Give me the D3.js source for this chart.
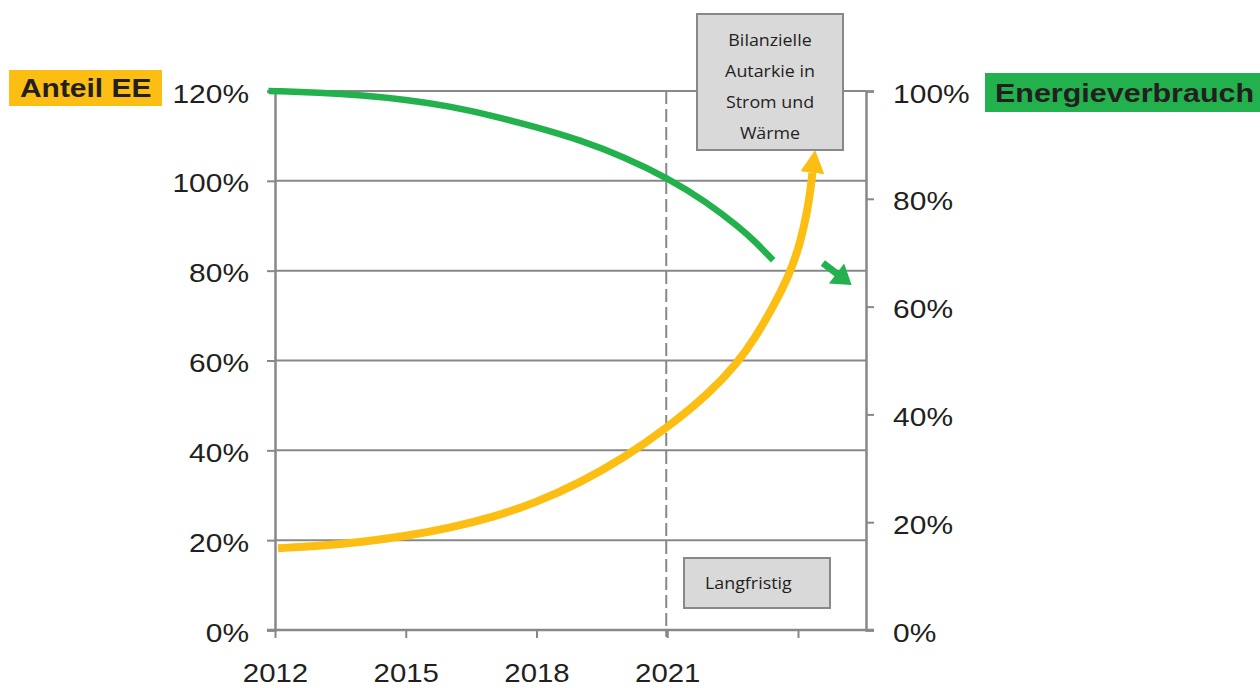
<!DOCTYPE html>
<html>
<head>
<meta charset="utf-8">
<script src="https://cdn.jsdelivr.net/npm/d3@7"></script>
<style>
  html, body { margin: 0; padding: 0; background: #fff; }
  svg { display: block; }
</style>
</head>
<body>
<svg id="chart" width="1260" height="688"></svg>
<script>
// ---- data ----
const yearTicks = [2012, 2015, 2018, 2021, 2024];
const yearLabels = ["2012", "2015", "2018", "2021", ""];
const shareTicks = [0, 20, 40, 60, 80, 100, 120];          // left axis, Anteil EE
const consumptionTicks = [0, 20, 40, 60, 80, 100];         // right axis, Energieverbrauch

// renewable share (left axis, %)
const shareYears  = [2012.07, 2013, 2014, 2015, 2016, 2017, 2018, 2019, 2020, 2021, 2022, 2022.62, 2023.01, 2023.40, 2023.80, 2024.05, 2024.22, 2024.30, 2024.32, 2024.33];
const shareValues = [18.2, 18.7, 19.6, 20.9, 22.7, 25.1, 28.4, 32.8, 38.3, 45.0, 53.0, 59.6, 65.0, 71.4, 79.0, 86.0, 93.5, 99.0, 101.0, 101.8];

// energy consumption (right axis, %)
const consumptionYears  = [2011.85, 2012, 2013, 2014, 2015, 2016, 2017, 2018, 2019, 2020, 2021, 2021.91, 2022.67, 2023, 2023.43];
const consumptionValues = [100, 100, 99.7, 99.2, 98.4, 97.2, 95.4, 93.3, 90.9, 87.8, 83.9, 79.4, 74.6, 72.2, 68.6];
// continuation arrow of the consumption trend
const trendArrowYears  = [2024.57, 2025.23];
const trendArrowValues = [68.1, 64.0];

const horizonYear = 2021;
const goalLines = ["Bilanzielle", "Autarkie in", "Strom und", "Wärme"];
const horizonLabel = "Langfristig";
const leftTitle = "Anteil EE";
const rightTitle = "Energieverbrauch";

// ---- styling ----
const YELLOW = "#FDBE13";
const GREEN = "#22B14C";
const GRAY = "#888888";
const INK = "#231f20";
const BOX = "#D9D9D9";
const SANS = "'Liberation Sans', Arial, sans-serif";
const NOTE = "'Open Sans', 'Liberation Sans', sans-serif";
const SX = 1.13;   // horizontal stretch of the lettering

const frame = { left: 275, right: 866, top: 91, bottom: 630 };

const svg = d3.select("#chart");

const x = d3.scaleLinear().domain([2012, 2024]).range([frame.left, 798]);
const yL = d3.scaleLinear().domain([0, 120]).range([frame.bottom, frame.top]);
const yR = d3.scaleLinear().domain([0, 100]).range([frame.bottom, frame.top]);

// ---- gridlines ----
svg.append("g")
  .selectAll("line")
  .data(shareTicks.filter(d => d > 0))
  .join("line")
  .attr("x1", frame.left).attr("x2", frame.right)
  .attr("y1", d => yL(d)).attr("y2", d => yL(d))
  .attr("stroke", GRAY).attr("stroke-width", 2);

// ---- left axis ----
const leftAxis = svg.append("g")
  .attr("transform", `translate(${frame.left},0)`)
  .call(d3.axisLeft(yL).tickValues(shareTicks).tickFormat(d => d + "%").tickSize(8).tickPadding(0));
leftAxis.select(".domain").attr("stroke", GRAY).attr("stroke-width", 2.5);
leftAxis.selectAll(".tick line").attr("stroke", GRAY).attr("stroke-width", 2);
leftAxis.selectAll(".tick text")
  .attr("x", -23).attr("dy", "0.42em")
  .attr("transform", `scale(${SX},1)`)
  .attr("font-family", SANS).attr("font-size", 26.5).attr("fill", INK);

// ---- right axis ----
const rightAxis = svg.append("g")
  .attr("transform", `translate(${frame.right},0)`)
  .call(d3.axisRight(yR).tickValues(consumptionTicks).tickFormat(d => d + "%").tickSize(8).tickPadding(0));
rightAxis.select(".domain").attr("stroke", GRAY).attr("stroke-width", 2.5);
rightAxis.selectAll(".tick line").attr("stroke", GRAY).attr("stroke-width", 2);
rightAxis.selectAll(".tick text")
  .attr("x", 24).attr("dy", "0.42em")
  .attr("transform", `scale(${SX},1)`)
  .attr("font-family", SANS).attr("font-size", 26.5).attr("fill", INK);

// ---- bottom axis ----
const bottomAxis = svg.append("g")
  .attr("transform", `translate(0,${frame.bottom})`)
  .call(d3.axisBottom(x).tickValues(yearTicks).tickFormat((d, i) => yearLabels[i]).tickSize(8).tickPadding(0));
bottomAxis.select(".domain").remove();
bottomAxis.selectAll(".tick line").attr("stroke", GRAY).attr("stroke-width", 2);
bottomAxis.selectAll(".tick text")
  .attr("y", 52).attr("dy", 0)
  .attr("transform", `scale(${SX},1)`)
  .attr("font-family", SANS).attr("font-size", 26).attr("fill", INK);
svg.append("line")
  .attr("x1", frame.left - 8).attr("x2", frame.right + 8)
  .attr("y1", frame.bottom).attr("y2", frame.bottom)
  .attr("stroke", GRAY).attr("stroke-width", 2.5);

// ---- horizon divider ----
svg.append("line")
  .attr("x1", x(horizonYear) - 1).attr("x2", x(horizonYear) - 1)
  .attr("y1", frame.top).attr("y2", frame.bottom + 7)
  .attr("stroke", GRAY).attr("stroke-width", 2)
  .attr("stroke-dasharray", "13,5");

// ---- arrow marker ----
const defs = svg.append("defs");
defs.append("marker")
  .attr("id", "head-yellow")
  .attr("markerUnits", "userSpaceOnUse")
  .attr("viewBox", "0 -13 23 26")
  .attr("markerWidth", 23).attr("markerHeight", 26)
  .attr("refX", 0).attr("refY", 0)
  .attr("orient", "auto")
  .append("path").attr("d", "M0,-12L23,0L0,12Z").attr("fill", YELLOW);

// ---- consumption curve ----
const consumption = consumptionYears.map((yr, i) => [yr, consumptionValues[i]]);
svg.append("path")
  .datum(consumption)
  .attr("fill", "none")
  .attr("stroke", GREEN).attr("stroke-width", 6.5)
  .attr("d", d3.line().x(d => x(d[0])).y(d => yR(d[1])).curve(d3.curveBasis));

// ---- renewable share curve with arrowhead ----
const share = shareYears.map((yr, i) => [yr, shareValues[i]]);
svg.append("path")
  .datum(share)
  .attr("fill", "none")
  .attr("stroke", YELLOW).attr("stroke-width", 8)
  .attr("marker-end", "url(#head-yellow)")
  .attr("d", d3.line().x(d => x(d[0])).y(d => yL(d[1])).curve(d3.curveBasis));

// ---- consumption trend arrow ----
{
  const tx = x(trendArrowYears[0]), ty = yR(trendArrowValues[0]);
  const hx = x(trendArrowYears[1]), hy = yR(trendArrowValues[1]);
  const len = Math.hypot(hx - tx, hy - ty);
  const ux = (hx - tx) / len, uy = (hy - ty) / len;
  const headLen = 19, headHalf = 12.5;
  const bx = hx - ux * headLen, by = hy - uy * headLen;
  svg.append("line")
    .attr("x1", tx).attr("y1", ty).attr("x2", bx + ux).attr("y2", by + uy)
    .attr("stroke", GREEN).attr("stroke-width", 7);
  svg.append("path")
    .attr("d", `M${hx},${hy}L${bx - uy * headHalf},${by + ux * headHalf}L${bx + uy * headHalf},${by - ux * headHalf}Z`)
    .attr("fill", GREEN);
}

// ---- annotation boxes ----
const goalBox = { x: 697, y: 14, w: 146, h: 136 };
svg.append("rect")
  .attr("x", goalBox.x).attr("y", goalBox.y).attr("width", goalBox.w).attr("height", goalBox.h)
  .attr("fill", BOX).attr("stroke", GRAY).attr("stroke-width", 2);
goalLines.forEach((line, i) => {
  svg.append("text")
    .attr("transform", `translate(${goalBox.x + goalBox.w / 2},${46 + i * 31}) scale(1.05,1)`)
    .attr("text-anchor", "middle")
    .attr("font-family", NOTE).attr("font-size", 17).attr("fill", INK)
    .text(line);
});

const horizonBox = { x: 684, y: 558, w: 146, h: 50 };
svg.append("rect")
  .attr("x", horizonBox.x).attr("y", horizonBox.y).attr("width", horizonBox.w).attr("height", horizonBox.h)
  .attr("fill", BOX).attr("stroke", GRAY).attr("stroke-width", 2);
svg.append("text")
  .attr("transform", `translate(705,589) scale(1.05,1)`)
  .attr("font-family", NOTE).attr("font-size", 17).attr("fill", INK)
  .text(horizonLabel);

// ---- axis titles ----
svg.append("rect").attr("x", 9).attr("y", 70).attr("width", 153).attr("height", 36).attr("fill", YELLOW);
svg.append("text")
  .attr("transform", `translate(20,97) scale(${SX},1)`)
  .attr("font-family", SANS).attr("font-weight", "bold").attr("font-size", 26.5).attr("fill", INK)
  .text(leftTitle);

svg.append("rect").attr("x", 985).attr("y", 73).attr("width", 280).attr("height", 39).attr("fill", GREEN);
svg.append("text")
  .attr("transform", `translate(995,102) scale(1.15,1)`)
  .attr("font-family", SANS).attr("font-weight", "bold").attr("font-size", 26.5).attr("fill", INK)
  .text(rightTitle);
</script>
</body>
</html>
